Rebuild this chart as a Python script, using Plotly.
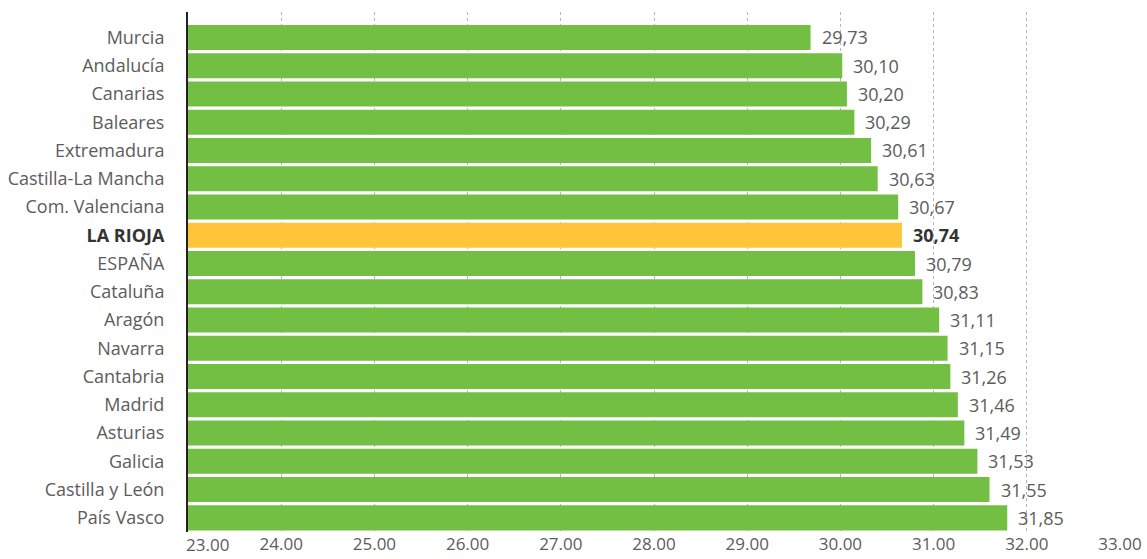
import plotly.graph_objects as go

regions = ["Murcia", "Andalucía", "Canarias", "Baleares", "Extremadura",
           "Castilla-La Mancha", "Com. Valenciana", "LA RIOJA", "ESPAÑA",
           "Cataluña", "Aragón", "Navarra", "Cantabria", "Madrid", "Asturias",
           "Galicia", "Castilla y León", "País Vasco"]
# bar lengths as drawn in the picture
bar_values = [29.68, 30.02, 30.07, 30.15, 30.33, 30.40, 30.62, 30.66, 30.80,
              30.88, 31.06, 31.15, 31.18, 31.26, 31.33, 31.47, 31.60, 31.79]
# value labels as printed
value_labels = ["29,73", "30,10", "30,20", "30,29", "30,61", "30,63", "30,67",
                "30,74", "30,79", "30,83", "31,11", "31,15", "31,26", "31,46",
                "31,49", "31,53", "31,55", "31,85"]
highlight = "LA RIOJA"
x_ticks = [23, 24, 25, 26, 27, 28, 29, 30, 31, 32, 33]

GREEN = "#72bf44"
YELLOW = "#ffc43a"
GREY = "#5c5c5c"
DARK = "#333333"
FONT = "Open Sans"

colors = [YELLOW if r == highlight else GREEN for r in regions]
ticktext = [f'<span style="color:{DARK}"><b>{r}</b></span>' if r == highlight else r
            for r in regions]

fig = go.Figure()
fig.add_trace(go.Bar(
    x=[v - x_ticks[0] for v in bar_values], base=x_ticks[0],
    y=list(range(len(regions))), orientation="h",
    marker=dict(color=colors, line=dict(width=0)),
    hoverinfo="skip",
))

for i, (v, lab, r) in enumerate(zip(bar_values, value_labels, regions)):
    is_h = r == highlight
    fig.add_annotation(
        x=v, y=i, text=f"<b>{lab}</b>" if is_h else lab,
        xanchor="left", yanchor="middle", xshift=9, showarrow=False,
        font=dict(family=FONT, size=18, color=DARK if is_h else GREY),
    )

# first x tick label sits shifted to the right of the axis line
fig.add_annotation(
    x=x_ticks[0], xref="x", y=0, yref="paper", text=f"{x_ticks[0]:.2f}",
    xanchor="center", yanchor="top", xshift=19, yshift=1, showarrow=False,
    font=dict(family=FONT, size=17, color=GREY),
)

fig.update_layout(
    width=1147, height=559,
    margin=dict(l=188, r=27, t=12, b=27, autoexpand=False),
    plot_bgcolor="white", paper_bgcolor="white",
    bargap=0.115, showlegend=False,
    font=dict(family=FONT, size=18, color=GREY),
)
fig.update_xaxes(
    range=[x_ticks[0], x_ticks[-1]], tickvals=x_ticks,
    ticktext=["" if t == x_ticks[0] else f"{t:.2f}" for t in x_ticks],
    showgrid=True, gridcolor="#b5b5b5", griddash="3px,3px", gridwidth=1,
    zeroline=False, showline=False, automargin=False,
    ticks="",
    tickfont=dict(family=FONT, size=17, color=GREY),
)
fig.update_yaxes(
    range=[len(regions) - 0.5, -0.9],
    tickvals=list(range(len(regions))), ticktext=ticktext,
    showgrid=False, zeroline=False, automargin=False,
    showline=True, linecolor="#222222", linewidth=2,
    ticks="outside", ticklen=18, tickcolor="white",
    tickfont=dict(family=FONT, size=18, color=GREY),
)

fig.write_html(
    "out.html",
    config={"displayModeBar": False},
    post_script="document.body.style.margin='0';document.body.style.overflow='hidden';",
)
